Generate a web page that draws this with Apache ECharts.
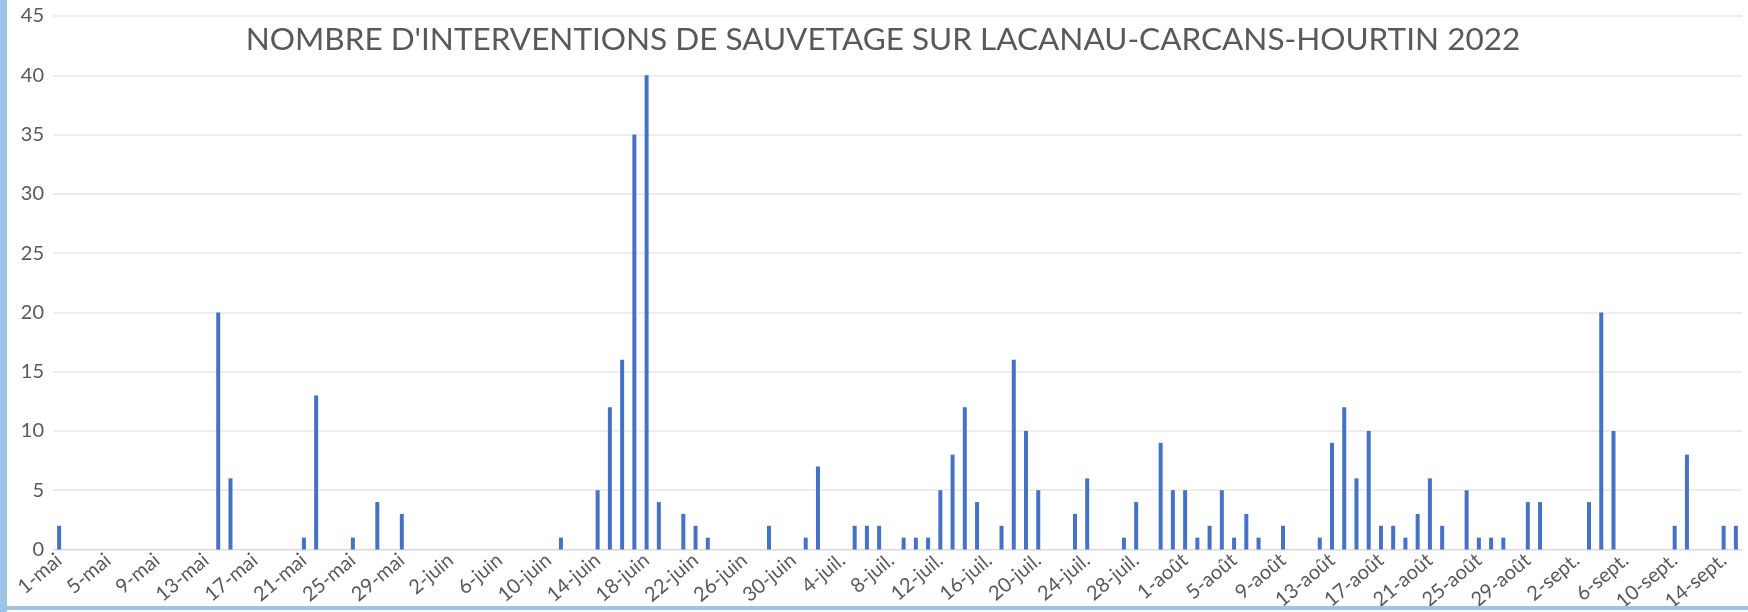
<!DOCTYPE html>
<html>
<head>
<meta charset="utf-8">
<script src="https://cdn.jsdelivr.net/npm/echarts@6/dist/echarts.min.js"></script>
<style>
html,body{margin:0;padding:0;background:#fff;}
#chart{width:1748px;height:612px;}
</style>
</head>
<body>
<div id="chart"></div>
<script>
// Month abbreviations and number of days shown per month
var monthNames = ["mai", "juin", "juil.", "août", "sept."];
var monthDays = [31, 30, 31, 31, 15];

// Daily number of rescue interventions, per month
var maiValues   = [2,0,0,0,0,0,0,0,0,0,0,0,0,20,6,0,0,0,0,0,1,13,0,0,1,0,4,0,3,0,0];
var juinValues  = [0,0,0,0,0,0,0,0,0,0,1,0,0,5,12,16,35,40,4,0,3,2,1,0,0,0,0,2,0,0];
var juilValues  = [1,7,0,0,2,2,2,0,1,1,1,5,8,12,4,0,2,16,10,5,0,0,3,6,0,0,1,4,0,9,5];
var aoutValues  = [5,1,2,5,1,3,1,0,2,0,0,1,9,12,6,10,2,2,1,3,6,2,0,5,1,1,1,0,4,4,0];
var septValues  = [0,0,4,20,10,0,0,0,0,2,8,0,0,2,2];

var yTicks = [0, 5, 10, 15, 20, 25, 30, 35, 40, 45];
var titleText = "NOMBRE D'INTERVENTIONS DE SAUVETAGE SUR LACANAU-CARCANS-HOURTIN 2022";

var categories = [];
monthNames.forEach(function (m, i) {
  for (var d = 1; d <= monthDays[i]; d++) categories.push(d + "-" + m);
});
var values = [].concat(maiValues, juinValues, juilValues, aoutValues, septValues);

var chart = echarts.init(document.getElementById('chart'), null, {renderer: 'canvas'});
chart.setOption({
  animation: false,
  backgroundColor: '#ffffff',
  title: {
    text: titleText,
    left: 878,
    top: 19,
    textAlign: 'center',
    textStyle: {
      fontFamily: 'Lato',
      fontSize: 31.5,
      fontWeight: 'normal',
      color: '#595959'
    }
  },
  graphic: [
    {type: 'rect', left: 0, top: 0, z: 100, shape: {width: 7, height: 612}, style: {fill: '#9DC3E6'}},
    {type: 'rect', left: 0, top: 606, z: 100, shape: {width: 1748, height: 4}, style: {fill: '#9DC3E6'}}
  ],
  grid: {left: 53, right: 6, top: 16, bottom: 62.5, outerBoundsMode: 'none'},
  xAxis: {
    type: 'category',
    data: categories,
    axisLine: {lineStyle: {color: '#d9d9d9'}},
    axisTick: {length: 4, lineStyle: {color: '#e0e0e0'}},
    axisLabel: {
      interval: 3,
      rotate: 40,
      margin: 8,
      fontFamily: 'Lato',
      fontSize: 20,
      color: '#595959'
    }
  },
  yAxis: {
    type: 'value',
    min: yTicks[0],
    max: yTicks[yTicks.length - 1],
    interval: 5,
    splitLine: {lineStyle: {color: '#e8e8e8', width: 1.5}},
    axisLabel: {
      margin: 9,
      fontFamily: 'Lato',
      fontSize: 20,
      color: '#595959'
    }
  },
  series: [{
    type: 'bar',
    data: values,
    barWidth: 4,
    itemStyle: {color: '#4472C4'}
  }]
});
</script>
</body>
</html>
